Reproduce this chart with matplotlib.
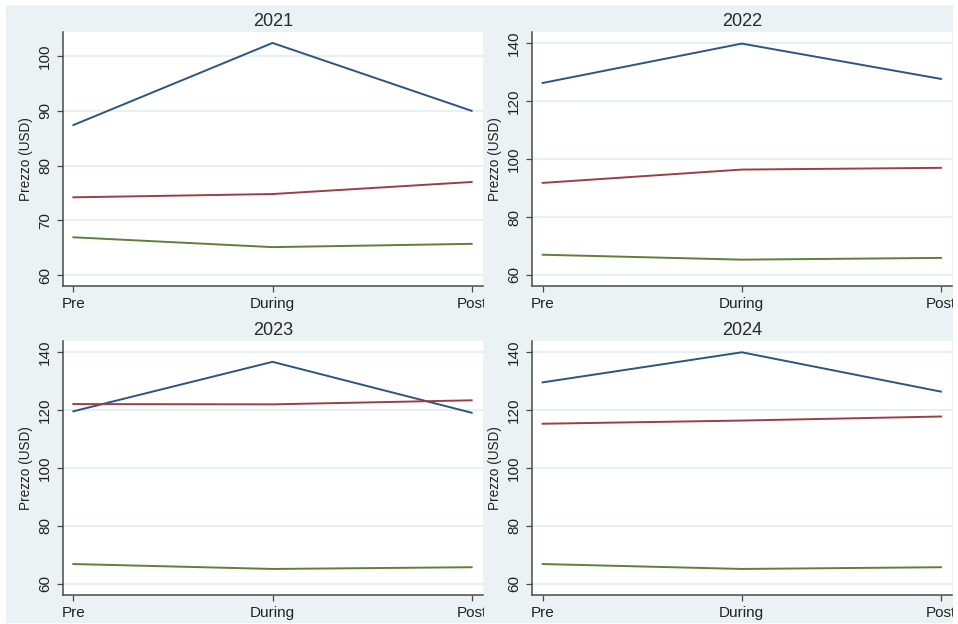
import matplotlib
matplotlib.use("Agg")
import matplotlib.pyplot as plt
from matplotlib.patches import Rectangle
from matplotlib.transforms import Bbox, TransformedBbox

plt.rcParams["font.family"] = ["Liberation Sans", "DejaVu Sans"]

periods = ["Pre", "During", "Post"]
years = ["2021", "2022", "2023", "2024"]

# Price series per year (Pre / During / Post)
navy_series = [
    [87.4, 102.4, 90.0],
    [126.3, 139.9, 127.7],
    [119.6, 136.7, 119.1],
    [129.6, 140.0, 126.4],
]
maroon_series = [
    [74.2, 74.8, 77.0],
    [91.8, 96.4, 97.0],
    [122.1, 122.0, 123.4],
    [115.3, 116.4, 117.8],
]
green_series = [
    [66.9, 65.1, 65.7],
    [67.0, 65.3, 65.9],
    [66.8, 65.1, 65.7],
    [66.8, 65.1, 65.7],
]

y_ticks = [
    [60, 70, 80, 90, 100],
    [60, 80, 100, 120, 140],
    [60, 80, 100, 120, 140],
    [60, 80, 100, 120, 140],
]
y_limits = [(58.0, 104.4), (56.2, 143.9), (56.2, 143.9), (56.2, 143.9)]

W, H = 958, 624
BG = "#eaf2f3"
GRID = "#e9f0f2"
AXC = "#4a4a4a"
TXT = "#222222"
colors = ["#2c5582", "#9a3f46", "#5f7f3a"]

fig = plt.figure(figsize=(W / 100, H / 100), dpi=100)
fig.patch.set_facecolor("white")

# shared backdrop of the combined graph
fig.patches.append(Rectangle((6 / W, 1 - 623 / H), (953 - 6) / W, (623 - 5) / H,
                             transform=fig.transFigure, facecolor=BG,
                             edgecolor="none", zorder=-10))

# axes boxes in pixels: (left, top, right, bottom)
boxes = [
    (63, 32, 483, 286),
    (532.3, 32, 952.3, 286),
    (63, 341, 483, 594.7),
    (532.3, 341, 952.3, 594.7),
]
clip_regions = [(6, 5, 484, 318), (484, 5, 953, 318),
                (6, 318, 484, 623), (484, 318, 953, 623)]

for i, year in enumerate(years):
    l, t, r, b = boxes[i]
    ax = fig.add_axes([l / W, 1 - b / H, (r - l) / W, (b - t) / H])
    ax.set_facecolor("white")
    x = list(range(len(periods)))
    for vals, c in zip([navy_series[i], maroon_series[i], green_series[i]], colors):
        ax.plot(x, vals, color=c, lw=1.4, solid_joinstyle="miter", zorder=3)

    ax.set_xlim(-0.052, 2.057)
    ax.set_ylim(*y_limits[i])
    ax.set_xticks(x)
    ax.set_xticklabels(periods)
    ax.set_yticks(y_ticks[i])
    ax.set_yticklabels([str(v) for v in y_ticks[i]], rotation=90, va="center")
    ax.grid(axis="y", color=GRID, lw=1.4, zorder=0)
    ax.set_axisbelow(True)

    for s in ["top", "right"]:
        ax.spines[s].set_visible(False)
    for s in ["left", "bottom"]:
        ax.spines[s].set_color(AXC)
        ax.spines[s].set_linewidth(1.1)

    ax.tick_params(axis="x", length=4.5, width=0.9, color=AXC, pad=3.5,
                   labelsize=11, labelcolor=TXT)
    ax.tick_params(axis="y", length=4.5, width=0.9, color=AXC, pad=3.5,
                   labelsize=11, labelcolor=TXT)

    ax.set_title(year, fontsize=13, color="#2a2a2a", pad=4.5)
    ax.set_ylabel("Prezzo (USD)", fontsize=9.8, color=TXT)
    ax.yaxis.set_label_coords(-30 / (r - l), 0.5)

    cx0, cy0, cx1, cy1 = clip_regions[i]
    clip = TransformedBbox(Bbox([[cx0 / W, 1 - cy1 / H], [cx1 / W, 1 - cy0 / H]]),
                           fig.transFigure)
    for tk in ax.xaxis.get_major_ticks():
        tk.label1.set_clip_on(True)
        tk.label1.set_clip_box(clip)

fig.savefig("out.png", dpi=100, facecolor=fig.get_facecolor())
